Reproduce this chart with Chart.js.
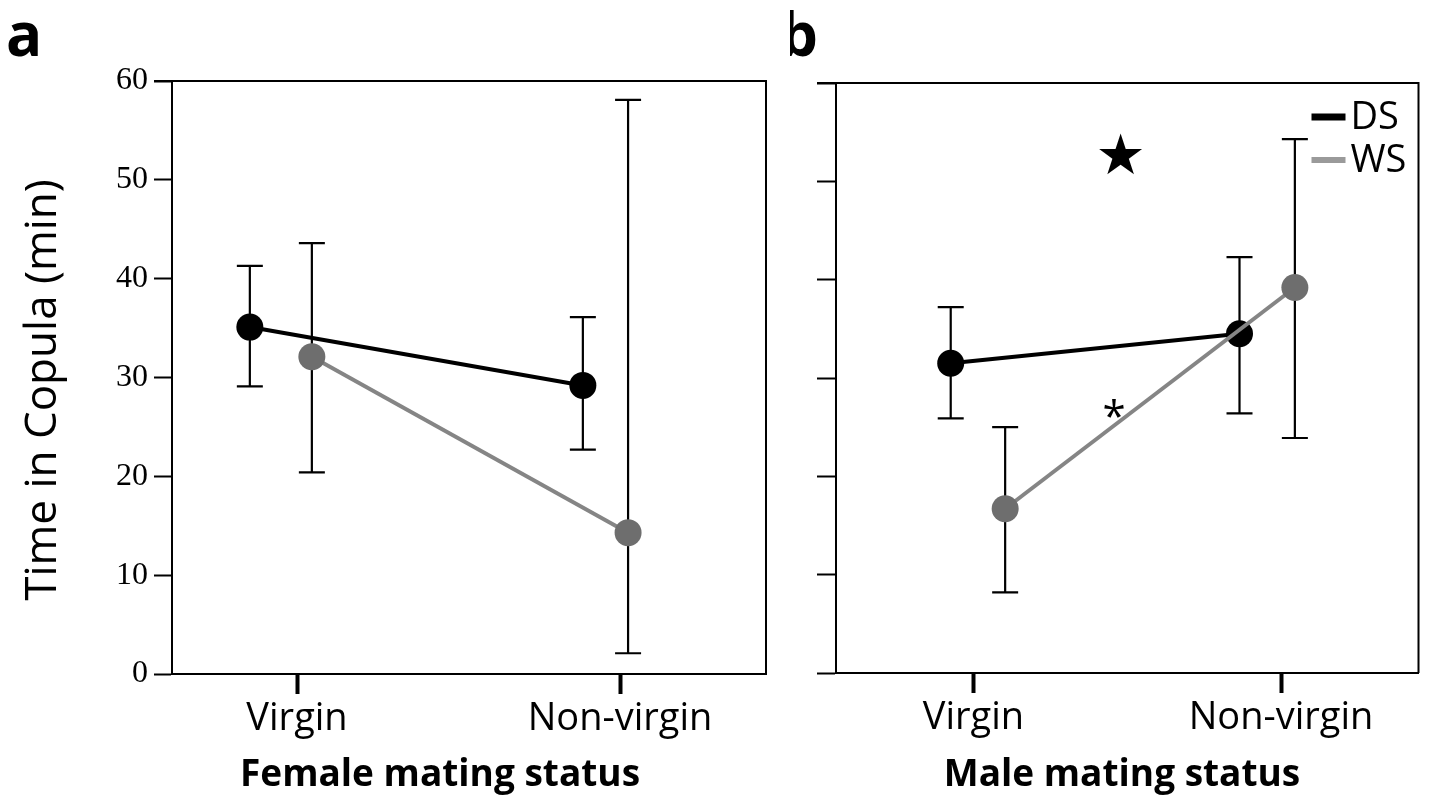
<!DOCTYPE html>
<html>
<head>
<meta charset="utf-8">
<script src="https://cdn.jsdelivr.net/npm/chart.js@4.4.0/dist/chart.umd.min.js"></script>
<style>
  html, body { margin: 0; padding: 0; background: #fff; }
  #wrapA { position: absolute; left: 0; top: 0; width: 790px; height: 797px; }
  #wrapB { position: absolute; left: 790px; top: 0; width: 642px; height: 797px; }
</style>
</head>
<body>
<div id="wrapA"><canvas id="chartA"></canvas></div>
<div id="wrapB"><canvas id="chartB"></canvas></div>
<script>
var categories = ['Virgin', 'Non-virgin'];
var yTicks = [0, 10, 20, 30, 40, 50, 60];

// a: female mating status
var femaleDS = [35.1, 29.2];
var femaleDSLow = [29.1, 22.7];
var femaleDSHigh = [41.3, 36.1];
var femaleWS = [32.1, 14.3];
var femaleWSLow = [20.4, 2.1];
var femaleWSHigh = [43.6, 58.1];

// b: male mating status
var maleDS = [31.5, 34.5];
var maleDSLow = [25.9, 26.4];
var maleDSHigh = [37.2, 42.3];
var maleWS = [16.7, 39.2];
var maleWSLow = [8.2, 23.9];
var maleWSHigh = [25.0, 54.3];

// horizontal dodge of each series around its category
var femaleDSShift = [-0.146, -0.115];
var femaleWSShift = [0.046, 0.025];
var maleDSShift = [-0.074, -0.135];
var maleWSShift = [0.103, 0.045];

var sans = "'Open Sans', sans-serif";
var serif = "'Liberation Serif', 'Times New Roman', serif";

function pts(vals, shift) {
	var out = [];
	for (var i in vals) out.push({ x: Number(i) + shift[i], y: vals[i] });
	return out;
}

var errorBars = {
	id: 'errorBars',
	beforeDatasetsDraw: function(chart, args, opts) {
		var ctx = chart.ctx, xs = chart.scales.x, ys = chart.scales.y;
		ctx.save();
		ctx.strokeStyle = '#000';
		ctx.lineWidth = 2.2;
		chart.data.datasets.forEach(function(ds) {
			ds.data.forEach(function(p, i) {
				var x = xs.getPixelForValue(p.x);
				var y1 = ys.getPixelForValue(ds.low[i]);
				var y2 = ys.getPixelForValue(ds.high[i]);
				ctx.beginPath();
				ctx.moveTo(x, y1); ctx.lineTo(x, y2);
				ctx.moveTo(x - 13, y1); ctx.lineTo(x + 13, y1);
				ctx.moveTo(x - 13, y2); ctx.lineTo(x + 13, y2);
				ctx.stroke();
			});
		});
		ctx.restore();
	}
};

var frame = {
	id: 'frame',
	afterDraw: function(chart, args, opts) {
		var ctx = chart.ctx, a = chart.chartArea;
		ctx.save();
		ctx.strokeStyle = '#000';
		ctx.lineWidth = 2;
		ctx.beginPath();
		ctx.moveTo(a.left - opts.tick, a.top);
		ctx.lineTo(a.right, a.top);
		ctx.lineTo(a.right, a.bottom);
		ctx.stroke();
		ctx.fillStyle = '#000';
		// panel letter
		ctx.font = "bold 60px " + sans;
		ctx.textBaseline = 'alphabetic';
		ctx.fillText(opts.letter, opts.letterX, 56);
		// x axis title
		ctx.textAlign = 'center';
		ctx.font = "bold 37px " + sans;
		ctx.fillText(opts.xTitle, opts.xTitleX, 786);
		// y axis title
		if (opts.yTitle) {
			ctx.translate(56, 390);
			ctx.rotate(-Math.PI / 2);
			ctx.font = "44px " + sans;
			ctx.fillText(opts.yTitle, 0, 0);
		}
		ctx.restore();
	}
};

var extras = {
	id: 'extras',
	afterDraw: function(chart, args, opts) {
		if (!opts.on) return;
		var ctx = chart.ctx, xs = chart.scales.x, ys = chart.scales.y, a = chart.chartArea;
		ctx.save();
		ctx.fillStyle = '#000';
		ctx.textAlign = 'center';
		ctx.textBaseline = 'middle';
		ctx.font = "56px 'DejaVu Sans'";
		ctx.fillText('\u2605', xs.getPixelForValue(0.478), ys.getPixelForValue(52.2));
		ctx.font = "42px " + sans;
		ctx.fillText('*', xs.getPixelForValue(0.457), ys.getPixelForValue(25.8));
		// legend
		var items = [chart.data.datasets[1], chart.data.datasets[0]];
		items.forEach(function(ds, k) {
			var y = a.top + 34 + k * 43;
			ctx.strokeStyle = ds.legendColor;
			ctx.lineWidth = k ? 6 : 7;
			ctx.beginPath();
			ctx.moveTo(a.right - 107, y);
			ctx.lineTo(a.right - 73, y);
			ctx.stroke();
			ctx.textAlign = 'left';
			ctx.font = "38px " + sans;
			ctx.fillText(ds.label, a.right - 68, y + 1);
		});
		ctx.restore();
	}
};

function makeChart(id, o) {
	var ctx = document.getElementById(id);
	return new Chart(ctx, {
		type: 'line',
		data: {
			datasets: [
				{
					label: 'WS', data: pts(o.ws, o.wsShift), low: o.wsLow, high: o.wsHigh,
					borderColor: '#858585', legendColor: '#9a9a9a', borderWidth: 4,
					pointRadius: 13.5, pointBackgroundColor: '#6e6e6e', pointBorderWidth: 0,
					order: 0
				},
				{
					label: 'DS', data: pts(o.ds, o.dsShift), low: o.dsLow, high: o.dsHigh,
					borderColor: '#000000', legendColor: '#000000', borderWidth: 4,
					pointRadius: 13.5, pointBackgroundColor: '#000000', pointBorderWidth: 0,
					order: 1
				}
			]
		},
		options: {
			responsive: true,
			maintainAspectRatio: false,
			animation: false,
			layout: { padding: o.padding },
			plugins: {
				legend: { display: false },
				tooltip: { enabled: false },
				frame: { tick: o.yTick, letter: o.letter, letterX: o.letterX, xTitle: o.xTitle, xTitleX: o.xTitleX, yTitle: o.yTitle },
				extras: { on: o.extras }
			},
			scales: {
				x: {
					type: 'linear',
					min: o.xMin, max: o.xMax,
					afterBuildTicks: function(s) { s.ticks = categories.map(function(c, i) { return { value: i }; }); },
					afterFit: function(s) { s.height = o.xHeight; },
					ticks: {
						callback: function(v) { return categories[v]; },
						color: '#000', font: { family: sans, size: 38 }, padding: 2, maxRotation: 0
					},
					grid: { drawOnChartArea: false, drawTicks: true, tickLength: 20, tickWidth: 4, tickColor: '#000' },
					border: { color: '#000', width: 2 }
				},
				y: {
					min: 0, max: 60,
					afterBuildTicks: function(s) { s.ticks = yTicks.map(function(v) { return { value: v }; }); },
					afterFit: function(s) { s.width = o.yWidth; },
					ticks: {
						display: o.yLabels,
						color: '#000', font: { family: serif, size: 32 }, padding: 6
					},
					grid: { drawOnChartArea: false, drawTicks: true, tickLength: o.yTick, tickWidth: 2, tickColor: '#000' },
					border: { color: '#000', width: 2 }
				}
			}
		},
		plugins: [errorBars, frame, extras]
	});
}

makeChart('chartA', {
	ds: femaleDS, dsLow: femaleDSLow, dsHigh: femaleDSHigh, dsShift: femaleDSShift,
	ws: femaleWS, wsLow: femaleWSLow, wsHigh: femaleWSHigh, wsShift: femaleWSShift,
	xMin: -0.387, xMax: 1.452, padding: { left: 0, top: 81, right: 24, bottom: 0 },
	xHeight: 123, yWidth: 172, yTick: 18, yLabels: true,
	xTitle: 'Female mating status', xTitleX: 440, yTitle: 'Time in Copula (min)',
	letter: 'a', letterX: 6, extras: false
});

makeChart('chartB', {
	ds: maleDS, dsLow: maleDSLow, dsHigh: maleDSHigh, dsShift: maleDSShift,
	ws: maleWS, wsLow: maleWSLow, wsHigh: maleWSHigh, wsShift: maleWSShift,
	xMin: -0.447, xMax: 1.447, padding: { left: 0, top: 83, right: 7, bottom: 0 },
	xHeight: 124, yWidth: 46, yTick: 19, yLabels: false,
	xTitle: 'Male mating status', xTitleX: 332, yTitle: null,
	letter: 'b', letterX: -10, extras: true
});
</script>
</body>
</html>
